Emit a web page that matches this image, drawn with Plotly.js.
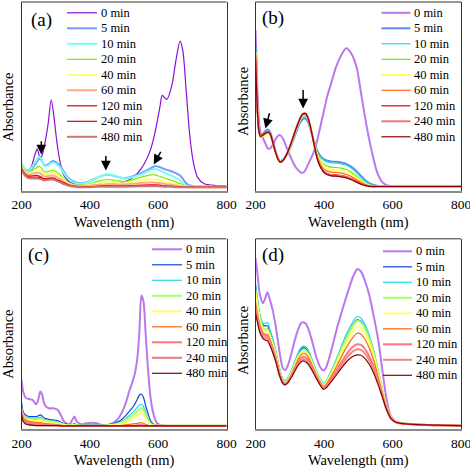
<!DOCTYPE html>
<html><head><meta charset="utf-8">
<script src="https://cdn.plot.ly/plotly-3.0.1.min.js"></script>
<style>html,body{margin:0;padding:0;background:#fff}#chart{width:470px;height:469px}</style>
</head><body><div id="chart"></div>
<script>
// ---------- data ----------
const timeLabels = ['0 min','5 min','10 min','20 min','40 min','60 min','120 min','240 min','480 min'];
const tickVals = [200,400,600,800];
const tickText = ['200','400','600','800'];
const panelLabels = ['(a)','(b)','(c)','(d)'];

// panel (a)
const wlA = [200,210,220,230,240,246,252,258,264,270,278,287,295,303,312,322,335,350,375,400,425,450,475,500,525,550,575,590,605,612,625,640,652,664,672,682,692,702,715,735,770,800];
const a0 = [0.075,0.065,0.060,0.075,0.110,0.125,0.105,0.100,0.120,0.150,0.200,0.272,0.220,0.150,0.090,0.050,0.030,0.022,0.018,0.017,0.016,0.017,0.020,0.025,0.038,0.065,0.115,0.170,0.250,0.285,0.273,0.315,0.390,0.448,0.420,0.300,0.170,0.090,0.040,0.020,0.015,0.014];
const a5 = [0.080,0.062,0.055,0.065,0.078,0.088,0.095,0.092,0.080,0.075,0.078,0.086,0.088,0.083,0.075,0.060,0.040,0.028,0.022,0.028,0.040,0.048,0.043,0.037,0.042,0.052,0.065,0.073,0.070,0.067,0.062,0.057,0.052,0.045,0.035,0.022,0.015,0.013,0.012,0.012,0.012,0.012];
const a10 = [0.083,0.065,0.057,0.070,0.085,0.095,0.102,0.095,0.078,0.073,0.075,0.082,0.083,0.078,0.070,0.055,0.037,0.025,0.020,0.027,0.040,0.049,0.044,0.036,0.040,0.048,0.060,0.065,0.060,0.057,0.050,0.044,0.038,0.030,0.022,0.015,0.012,0.011,0.011,0.011,0.011,0.011];
const a20 = [0.077,0.060,0.052,0.060,0.065,0.070,0.072,0.068,0.058,0.055,0.057,0.060,0.060,0.055,0.048,0.038,0.025,0.018,0.016,0.020,0.028,0.033,0.030,0.027,0.032,0.040,0.046,0.047,0.042,0.040,0.035,0.030,0.025,0.020,0.017,0.013,0.011,0.010,0.010,0.010,0.010,0.010];
const a40 = [0.073,0.057,0.050,0.055,0.058,0.060,0.060,0.057,0.050,0.048,0.050,0.052,0.052,0.048,0.042,0.033,0.022,0.016,0.014,0.017,0.022,0.025,0.023,0.022,0.025,0.030,0.033,0.033,0.030,0.028,0.025,0.022,0.019,0.016,0.014,0.012,0.010,0.010,0.010,0.010,0.010,0.010];
const a60 = [0.070,0.054,0.047,0.050,0.052,0.053,0.052,0.049,0.043,0.042,0.043,0.045,0.044,0.040,0.035,0.028,0.020,0.015,0.013,0.014,0.017,0.019,0.018,0.018,0.020,0.023,0.024,0.024,0.022,0.021,0.019,0.017,0.015,0.013,0.012,0.011,0.010,0.010,0.010,0.010,0.010,0.010];
const a120 = [0.065,0.050,0.043,0.044,0.045,0.045,0.043,0.040,0.036,0.036,0.037,0.038,0.037,0.033,0.029,0.024,0.018,0.014,0.012,0.012,0.013,0.014,0.014,0.014,0.015,0.016,0.017,0.017,0.016,0.015,0.014,0.013,0.012,0.012,0.011,0.010,0.010,0.010,0.010,0.010,0.010,0.010];
const a240 = [0.062,0.047,0.040,0.040,0.040,0.040,0.039,0.037,0.034,0.034,0.034,0.035,0.034,0.031,0.027,0.022,0.017,0.013,0.011,0.011,0.012,0.012,0.012,0.012,0.013,0.014,0.014,0.014,0.013,0.013,0.012,0.012,0.011,0.011,0.010,0.010,0.010,0.010,0.010,0.010,0.010,0.010];
const a480 = [0.060,0.045,0.037,0.036,0.036,0.036,0.035,0.034,0.031,0.031,0.032,0.033,0.032,0.029,0.025,0.020,0.015,0.012,0.010,0.010,0.011,0.011,0.011,0.011,0.012,0.013,0.013,0.013,0.012,0.012,0.011,0.011,0.010,0.010,0.010,0.010,0.010,0.010,0.010,0.010,0.010,0.010];

// panel (b)
const wlB = [200,203,206,210,215,222,229,236,243,250,258,266,272,280,290,300,310,320,330,338,345,352,360,370,380,390,400,410,420,435,450,465,480,495,510,525,540,555,570,585,600,650,700,800];
const b0 = [0.481,0.391,0.291,0.211,0.171,0.156,0.141,0.126,0.126,0.136,0.153,0.164,0.166,0.156,0.131,0.106,0.083,0.066,0.056,0.053,0.060,0.075,0.092,0.115,0.150,0.195,0.240,0.285,0.318,0.370,0.405,0.426,0.410,0.370,0.280,0.190,0.115,0.055,0.025,0.015,0.013,0.013,0.013,0.013];
const b5 = [0.440,0.330,0.245,0.185,0.165,0.170,0.178,0.183,0.175,0.150,0.120,0.097,0.088,0.092,0.105,0.125,0.150,0.178,0.203,0.214,0.216,0.208,0.185,0.150,0.120,0.102,0.093,0.089,0.087,0.086,0.084,0.080,0.071,0.058,0.041,0.027,0.018,0.014,0.012,0.012,0.012,0.012,0.012,0.012];
const b10 = [0.430,0.325,0.240,0.182,0.163,0.167,0.174,0.178,0.171,0.148,0.118,0.095,0.087,0.091,0.105,0.126,0.152,0.181,0.207,0.219,0.221,0.212,0.188,0.150,0.118,0.099,0.090,0.085,0.083,0.082,0.080,0.076,0.067,0.053,0.037,0.024,0.016,0.013,0.012,0.012,0.012,0.012,0.012,0.012];
const b20 = [0.420,0.320,0.238,0.180,0.161,0.164,0.169,0.172,0.166,0.145,0.116,0.094,0.087,0.091,0.106,0.128,0.155,0.185,0.211,0.224,0.226,0.216,0.190,0.148,0.112,0.090,0.078,0.073,0.070,0.069,0.067,0.063,0.055,0.043,0.030,0.020,0.014,0.012,0.012,0.012,0.012,0.012,0.012,0.012];
const b40 = [0.415,0.318,0.236,0.179,0.160,0.163,0.168,0.172,0.166,0.145,0.116,0.094,0.087,0.091,0.107,0.129,0.157,0.187,0.213,0.226,0.228,0.218,0.191,0.147,0.108,0.084,0.071,0.065,0.062,0.061,0.059,0.055,0.048,0.037,0.026,0.018,0.013,0.012,0.012,0.012,0.012,0.012,0.012,0.012];
const b60 = [0.410,0.315,0.235,0.179,0.161,0.165,0.170,0.174,0.168,0.146,0.117,0.094,0.087,0.091,0.107,0.130,0.158,0.188,0.214,0.227,0.229,0.219,0.192,0.146,0.104,0.078,0.064,0.058,0.055,0.054,0.052,0.048,0.042,0.032,0.023,0.016,0.013,0.012,0.012,0.012,0.012,0.012,0.012,0.012];
const b120 = [0.405,0.312,0.233,0.179,0.162,0.167,0.172,0.176,0.170,0.147,0.117,0.094,0.086,0.090,0.107,0.131,0.160,0.190,0.216,0.229,0.231,0.221,0.193,0.145,0.100,0.073,0.058,0.051,0.048,0.047,0.045,0.042,0.036,0.028,0.020,0.015,0.012,0.012,0.012,0.012,0.012,0.012,0.012,0.012];
const b240 = [0.400,0.310,0.232,0.178,0.162,0.167,0.172,0.176,0.170,0.147,0.117,0.094,0.086,0.090,0.107,0.131,0.160,0.190,0.216,0.229,0.231,0.221,0.193,0.144,0.098,0.071,0.056,0.049,0.046,0.045,0.043,0.040,0.034,0.027,0.019,0.014,0.012,0.012,0.012,0.012,0.012,0.012,0.012,0.012];
const b480 = [0.395,0.308,0.230,0.178,0.162,0.167,0.172,0.175,0.169,0.146,0.116,0.093,0.085,0.089,0.106,0.131,0.160,0.190,0.216,0.229,0.231,0.221,0.192,0.143,0.096,0.069,0.054,0.047,0.044,0.043,0.041,0.038,0.032,0.025,0.018,0.014,0.012,0.012,0.012,0.012,0.012,0.012,0.012,0.012];

// panel (c)
const wlC = [200,205,212,222,232,243,250,255,260,268,280,292,305,315,325,340,350,355,362,375,390,405,420,440,460,480,495,505,515,525,533,540,545,551,557,563,570,578,587,597,610,650,700,800];
const c0 = [0.148,0.113,0.095,0.091,0.088,0.075,0.093,0.113,0.105,0.073,0.063,0.063,0.059,0.043,0.023,0.015,0.031,0.038,0.023,0.015,0.018,0.020,0.018,0.011,0.015,0.028,0.053,0.078,0.113,0.143,0.173,0.223,0.293,0.401,0.383,0.293,0.183,0.093,0.043,0.018,0.012,0.011,0.011,0.011];
const c5 = [0.083,0.053,0.043,0.038,0.038,0.038,0.041,0.043,0.040,0.033,0.030,0.028,0.026,0.021,0.017,0.014,0.015,0.016,0.014,0.013,0.013,0.013,0.013,0.013,0.015,0.021,0.031,0.041,0.053,0.065,0.078,0.092,0.103,0.105,0.095,0.072,0.048,0.025,0.015,0.012,0.011,0.011,0.011,0.011];
const c10 = [0.070,0.045,0.038,0.035,0.034,0.033,0.035,0.036,0.034,0.029,0.027,0.025,0.023,0.019,0.016,0.013,0.014,0.014,0.013,0.012,0.012,0.012,0.012,0.012,0.014,0.018,0.025,0.032,0.041,0.050,0.059,0.067,0.073,0.075,0.068,0.052,0.033,0.019,0.013,0.011,0.011,0.011,0.011,0.011];
const c20 = [0.062,0.040,0.034,0.031,0.030,0.029,0.030,0.031,0.030,0.026,0.024,0.022,0.020,0.017,0.014,0.012,0.013,0.013,0.012,0.011,0.011,0.011,0.011,0.011,0.013,0.016,0.021,0.027,0.034,0.042,0.049,0.056,0.061,0.063,0.057,0.044,0.028,0.016,0.012,0.011,0.011,0.011,0.011,0.011];
const c40 = [0.058,0.036,0.030,0.027,0.026,0.025,0.026,0.027,0.026,0.023,0.021,0.019,0.017,0.015,0.013,0.011,0.012,0.012,0.011,0.011,0.011,0.011,0.011,0.011,0.012,0.014,0.017,0.021,0.026,0.032,0.038,0.043,0.047,0.048,0.044,0.034,0.022,0.014,0.011,0.011,0.011,0.011,0.011,0.011];
const c60 = [0.058,0.035,0.028,0.024,0.022,0.020,0.020,0.020,0.019,0.017,0.016,0.015,0.014,0.012,0.011,0.010,0.010,0.010,0.010,0.010,0.010,0.010,0.010,0.010,0.010,0.011,0.012,0.013,0.015,0.016,0.017,0.018,0.019,0.019,0.018,0.015,0.012,0.010,0.010,0.010,0.010,0.010,0.010,0.010];
const c120 = [0.055,0.032,0.024,0.020,0.018,0.016,0.016,0.016,0.015,0.014,0.013,0.012,0.012,0.011,0.010,0.010,0.010,0.010,0.010,0.010,0.010,0.010,0.010,0.010,0.010,0.010,0.010,0.010,0.010,0.011,0.011,0.012,0.012,0.012,0.012,0.011,0.010,0.010,0.010,0.010,0.010,0.010,0.010,0.010];
const c240 = [0.050,0.028,0.020,0.016,0.014,0.013,0.012,0.012,0.012,0.012,0.012,0.012,0.012,0.011,0.010,0.010,0.010,0.010,0.010,0.010,0.010,0.010,0.010,0.010,0.010,0.010,0.010,0.010,0.010,0.010,0.010,0.010,0.011,0.011,0.010,0.010,0.010,0.010,0.010,0.010,0.010,0.010,0.010,0.010];
const c480 = [0.045,0.024,0.016,0.013,0.012,0.011,0.011,0.011,0.011,0.011,0.011,0.011,0.011,0.010,0.010,0.010,0.010,0.010,0.010,0.010,0.010,0.010,0.010,0.010,0.010,0.010,0.010,0.010,0.010,0.010,0.010,0.010,0.010,0.010,0.010,0.010,0.010,0.010,0.010,0.010,0.010,0.010,0.010,0.010];

// panel (d)
const wlD = [200,205,213,222,229,235,242,250,260,270,280,287,295,305,315,325,333,340,348,357,367,377,388,398,405,415,428,440,455,470,485,497,508,520,532,545,558,570,582,595,610,630,660,700,750,800];
const d0 = [0.513,0.473,0.403,0.378,0.395,0.411,0.388,0.358,0.303,0.233,0.183,0.178,0.193,0.228,0.268,0.301,0.318,0.321,0.315,0.293,0.258,0.218,0.188,0.176,0.183,0.213,0.263,0.311,0.363,0.413,0.458,0.480,0.473,0.443,0.403,0.340,0.270,0.180,0.095,0.040,0.023,0.018,0.015,0.013,0.012,0.011];
const d5 = [0.433,0.393,0.338,0.312,0.310,0.310,0.292,0.267,0.229,0.180,0.149,0.144,0.153,0.175,0.201,0.227,0.240,0.245,0.241,0.227,0.201,0.175,0.151,0.136,0.141,0.160,0.187,0.215,0.253,0.286,0.313,0.328,0.323,0.304,0.275,0.232,0.174,0.121,0.072,0.038,0.023,0.018,0.015,0.013,0.012,0.011];
const d10 = [0.438,0.398,0.343,0.318,0.318,0.320,0.300,0.273,0.233,0.183,0.151,0.146,0.155,0.178,0.205,0.231,0.245,0.250,0.246,0.231,0.205,0.178,0.153,0.138,0.143,0.163,0.191,0.221,0.261,0.295,0.323,0.338,0.333,0.313,0.283,0.238,0.178,0.123,0.073,0.038,0.023,0.018,0.015,0.013,0.012,0.011];
const d20 = [0.418,0.380,0.330,0.305,0.300,0.300,0.283,0.259,0.223,0.176,0.146,0.142,0.150,0.171,0.196,0.220,0.233,0.238,0.234,0.221,0.196,0.171,0.148,0.134,0.139,0.157,0.184,0.212,0.250,0.283,0.310,0.325,0.320,0.301,0.272,0.229,0.172,0.120,0.071,0.037,0.023,0.018,0.015,0.013,0.012,0.011];
const d40 = [0.408,0.372,0.324,0.299,0.295,0.295,0.278,0.254,0.219,0.173,0.144,0.140,0.148,0.168,0.192,0.216,0.228,0.233,0.229,0.216,0.192,0.168,0.145,0.131,0.136,0.153,0.178,0.204,0.239,0.269,0.294,0.308,0.304,0.286,0.259,0.219,0.166,0.116,0.069,0.036,0.022,0.017,0.015,0.013,0.012,0.011];
const d60 = [0.383,0.352,0.312,0.290,0.285,0.285,0.270,0.247,0.213,0.170,0.143,0.139,0.146,0.165,0.188,0.211,0.223,0.228,0.224,0.211,0.188,0.165,0.143,0.129,0.133,0.149,0.172,0.195,0.226,0.253,0.276,0.288,0.285,0.269,0.244,0.207,0.158,0.111,0.067,0.035,0.022,0.017,0.015,0.013,0.012,0.011];
const d120 = [0.368,0.340,0.303,0.284,0.280,0.280,0.265,0.242,0.208,0.167,0.141,0.137,0.144,0.162,0.183,0.203,0.214,0.218,0.214,0.202,0.181,0.160,0.140,0.126,0.129,0.143,0.163,0.183,0.208,0.231,0.248,0.255,0.253,0.240,0.219,0.187,0.145,0.104,0.064,0.034,0.021,0.017,0.015,0.013,0.012,0.011];
const d240 = [0.358,0.332,0.296,0.278,0.273,0.272,0.258,0.236,0.204,0.164,0.139,0.135,0.142,0.159,0.179,0.198,0.208,0.211,0.207,0.196,0.177,0.157,0.137,0.123,0.126,0.139,0.157,0.175,0.198,0.219,0.234,0.240,0.238,0.227,0.208,0.179,0.140,0.101,0.062,0.033,0.021,0.017,0.015,0.013,0.012,0.011];
const d480 = [0.348,0.324,0.290,0.272,0.267,0.265,0.252,0.231,0.200,0.162,0.137,0.133,0.140,0.156,0.175,0.193,0.202,0.205,0.201,0.191,0.173,0.154,0.134,0.120,0.123,0.135,0.152,0.168,0.189,0.207,0.219,0.223,0.222,0.212,0.195,0.169,0.134,0.098,0.061,0.033,0.021,0.017,0.015,0.013,0.012,0.011];

// arrows: [x head, y head, x tail, y tail]
const arrowsA = [[258,0.108,258,0.152],[447,0.060,447,0.108],[587,0.078,610,0.120]];
const arrowsB = [[229,0.186,242,0.236],[339,0.246,339,0.306]];

// ---------- styles ----------
const FONT = 'Liberation Serif, Times New Roman, Times, serif';
const W = 470, H = 469;
const panels = [
  { wl: wlA, ys: [a0,a5,a10,a20,a40,a60,a120,a240,a480], ymax: 0.565, arrows: arrowsA,
    colors: ['#8a10d8','#7799ff','#77ffee','#77ee00','#ffff77','#ffaa88','#dd0000','#e50000','#c87878'],
    widths: [1.2,2,2,1.2,2,2,1.2,1.2,2],
    px: [21.5,226.5], py: [2,190.5], leg: {x0:67, x1:97, y:12.8}, lab: {x:41, y:20}, ytitle: {x:7.7, y:107} },
  { wl: wlB, ys: [b0,b5,b10,b20,b40,b60,b120,b240,b480], ymax: 0.565, arrows: arrowsB,
    colors: ['#bb77ee','#6688ee','#22dddd','#66ee00','#ffff66','#ff6611','#ee0000','#ee7777','#880000'],
    widths: [2,2,1.2,1.2,2,1.2,1.2,2,1.2],
    px: [255.5,461], py: [2,190.5], leg: {x0:381.5, x1:410.5, y:12.8}, lab: {x:273, y:18}, ytitle: {x:243, y:102} },
  { wl: wlC, ys: [c0,c5,c10,c20,c40,c60,c120,c240,c480], ymax: 0.571, arrows: [],
    colors: ['#bb77ee','#1144dd','#22dddd','#aaff66','#ffff66','#ff6611','#ff7777','#ee7777','#880000'],
    widths: [2,1.2,1.2,2,2,1.2,2,2,1.2],
    px: [21.5,226.5], py: [238.8,429.3], leg: {x0:152, x1:182, y:249.3}, lab: {x:38, y:255}, ytitle: {x:7.7, y:344} },
  { wl: wlD, ys: [d0,d5,d10,d20,d40,d60,d120,d240,d480], ymax: 0.571, arrows: [],
    colors: ['#bb77ee','#1144dd','#22dddd','#aaff66','#ffff66','#ff6611','#ff7777','#ee8888','#880000'],
    widths: [2,1.2,1.2,2,2,1.2,2,2,1.2],
    px: [255.5,461], py: [238.8,429.3], leg: {x0:383, x1:412, y:251.3}, lab: {x:273, y:255}, ytitle: {x:243, y:341} }
];
const LEG_STEP = 15.5;
const px2x = v => v / W;
const px2y = v => 1 - v / H;

const traces = [], shapes = [], annotations = [];
const layout = {
  width: W, height: H, margin: {l:0, r:0, t:0, b:0},
  paper_bgcolor: '#fff', plot_bgcolor: '#fff', showlegend: false,
  font: {family: FONT, color: '#000', size: 13}
};

panels.forEach((p, k) => {
  const n = k === 0 ? '' : String(k + 1);
  const xa = 'x' + n, ya = 'y' + n;
  p.ys.forEach((yv, i) => {
    traces.push({
      type: 'scatter', mode: 'lines', x: p.wl, y: yv, name: timeLabels[i],
      xaxis: xa, yaxis: ya, hoverinfo: 'x+y+name',
      line: {color: p.colors[i], width: p.widths[i], shape: 'spline', smoothing: 0.8}
    });
    const ly = p.leg.y + i * LEG_STEP;
    shapes.push({type: 'line', xref: 'paper', yref: 'paper',
      x0: px2x(p.leg.x0), x1: px2x(p.leg.x1), y0: px2y(ly), y1: px2y(ly),
      line: {color: p.colors[i], width: p.widths[i]}});
    annotations.push({xref: 'paper', yref: 'paper', x: px2x(p.leg.x1 + 1.5), y: px2y(ly),
      xanchor: 'left', yanchor: 'middle', showarrow: false, text: timeLabels[i],
      font: {family: FONT, size: 12.5, color: '#000'}});
  });
  layout['xaxis' + n] = {
    domain: [px2x(p.px[0]), px2x(p.px[1])], anchor: ya, range: [200, 800],
    tickmode: 'array', tickvals: tickVals, ticktext: tickText, ticks: '',
    ticklabeloverflow: 'allow',
    tickfont: {family: FONT, size: 13.5, color: '#000'},
    showline: true, linecolor: '#8a8a8a', linewidth: 2, mirror: false,
    showgrid: false, zeroline: false, fixedrange: true,
    title: {text: 'Wavelength (nm)', font: {family: FONT, size: 14.5, color: '#000'}, standoff: 6}
  };
  layout['yaxis' + n] = {
    domain: [px2y(p.py[1]), px2y(p.py[0])], anchor: xa, range: [0, p.ymax],
    showticklabels: false, ticks: '', showgrid: false, zeroline: false,
    showline: true, linecolor: '#333', linewidth: 1, mirror: true, fixedrange: true
  };
  shapes.push({type: 'line', xref: xa + ' domain', yref: ya + ' domain', x0: 0, x1: 1, y0: 1, y1: 1,
    line: {color: '#333', width: 1}});
  annotations.push({xref: 'paper', yref: 'paper', x: px2x(p.lab.x), y: px2y(p.lab.y),
    xanchor: 'center', yanchor: 'middle', showarrow: false, text: panelLabels[k],
    font: {family: FONT, size: 19, color: '#000'}});
  annotations.push({xref: 'paper', yref: 'paper', x: px2x(p.ytitle.x), y: px2y(p.ytitle.y),
    xanchor: 'center', yanchor: 'middle', showarrow: false, text: 'Absorbance', textangle: -90,
    font: {family: FONT, size: 14.5, color: '#000'}});
  p.arrows.forEach(a => {
    annotations.push({xref: xa, yref: ya, axref: xa, ayref: ya, x: a[0], y: a[1], ax: a[2], ay: a[3],
      text: '', showarrow: true, arrowhead: 2, arrowsize: 1.3, arrowwidth: 1.5, arrowcolor: '#000'});
  });
});
layout.shapes = shapes;
layout.annotations = annotations;

Plotly.newPlot('chart', traces, layout, {displayModeBar: false, staticPlot: true});
</script>
</body></html>
